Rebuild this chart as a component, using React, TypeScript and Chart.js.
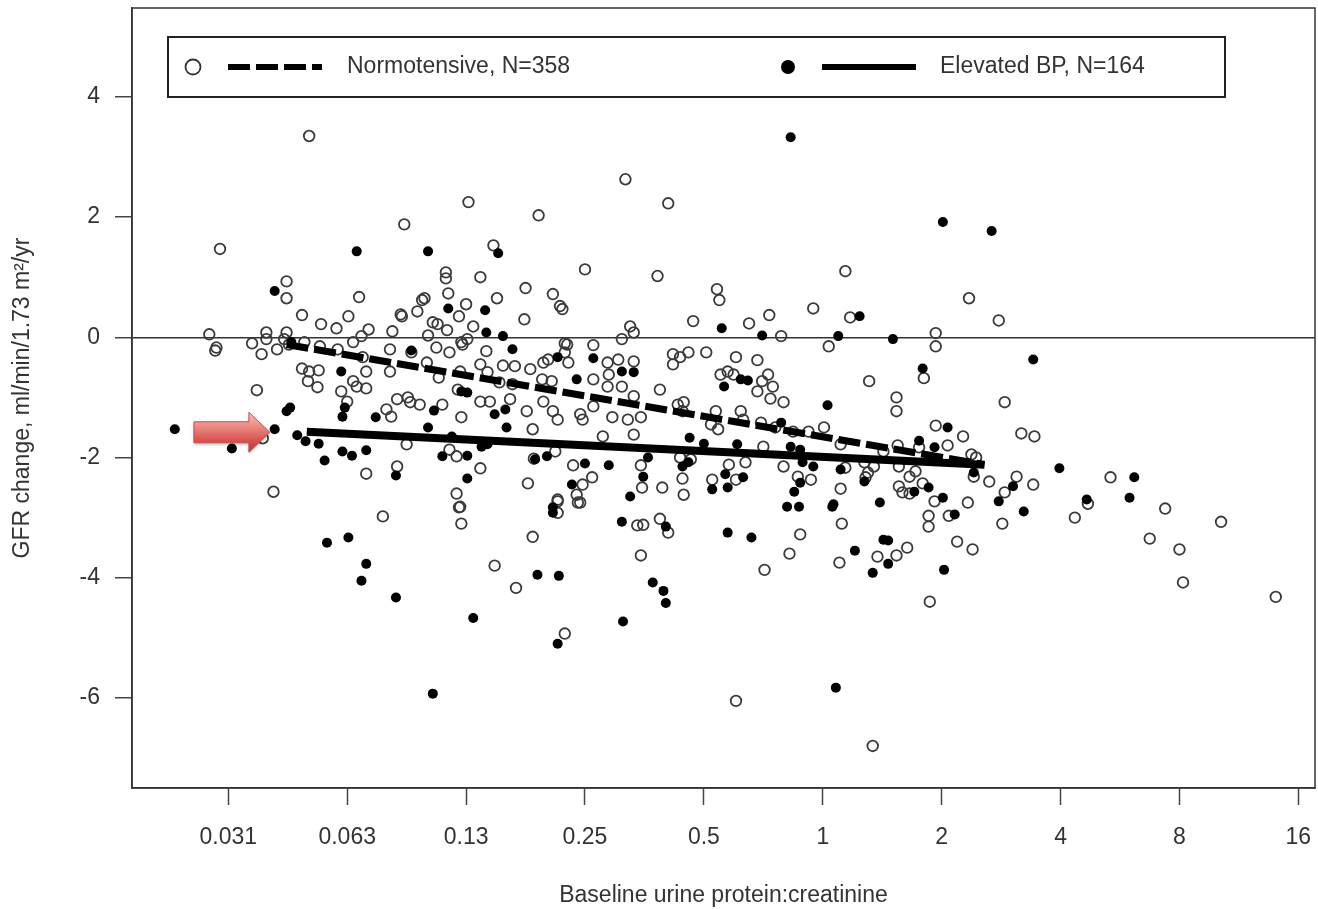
import React, { useEffect, useRef } from "react";
import { Chart, registerables } from "chart.js";

Chart.register(...registerables);

// x values are log2(baseline urine protein:creatinine); y is GFR change (ml/min/1.73 m²/yr)
const xTickValues = [-5, -4, -3, -2, -1, 0, 1, 2, 3, 4];
const xTickLabels = ["0.031", "0.063", "0.13", "0.25", "0.5", "1", "2", "4", "8", "16"];
const yTickValues = [-6, -4, -2, 0, 2, 4];

const legendLabels = ["Normotensive, N=358", "Elevated BP, N=164"];
const xTitle = "Baseline urine protein:creatinine";
const yTitle = "GFR change, ml/min/1.73 m²/yr";

// Normotensive (open circles)
const normPoints: [number, number][] = [
  [-4.32, 3.35], [-1.66, 2.63], [-2.98, 2.25], [-1.30, 2.23], [-2.39, 2.03], [-3.52, 1.88],
  [-5.07, 1.47], [-2.77, 1.53], [-2.00, 1.13], [-3.17, 1.08], [-3.17, 0.98], [-2.88, 1.00],
  [-1.39, 1.02], [0.19, 1.10], [-4.51, 0.93], [-2.50, 0.82], [-0.89, 0.80], [-0.87, 0.62],
  [-2.27, 0.72], [-3.15, 0.73], [-4.51, 0.65], [-3.90, 0.67], [-3.37, 0.62], [-3.35, 0.65],
  [-2.74, 0.65], [-3.00, 0.55], [1.23, 0.65], [-2.21, 0.52], [-2.19, 0.47], [-0.08, 0.48],
  [-3.41, 0.43], [-4.38, 0.37], [-3.55, 0.38], [-3.54, 0.35], [-3.06, 0.35], [-0.45, 0.37],
  [-3.99, 0.35], [0.23, 0.33], [-2.51, 0.30], [1.48, 0.28], [-1.09, 0.27], [-4.22, 0.22],
  [-3.28, 0.25], [-3.24, 0.22], [-0.62, 0.23], [-4.09, 0.15], [-2.94, 0.18], [-1.62, 0.18],
  [-1.59, 0.08], [-3.82, 0.13], [-3.16, 0.12], [-3.62, 0.10], [-4.68, 0.08], [-4.68, -0.03],
  [0.95, 0.07], [-5.16, 0.05], [-3.32, 0.03], [-3.88, 0.02], [-0.35, 0.02], [-4.51, 0.08],
  [-4.53, -0.03], [-4.49, -0.12], [-4.80, -0.10], [-1.69, -0.03], [-2.99, -0.03], [-3.04, -0.08],
  [-2.17, -0.10], [-1.93, -0.13], [-3.95, -0.08], [-5.10, -0.17], [0.95, -0.15], [0.05, -0.15],
  [-5.11, -0.22], [-4.72, -0.28], [-4.59, -0.20], [-3.64, -0.20], [-3.46, -0.25], [-3.25, -0.17],
  [-3.14, -0.25], [-3.03, -0.12], [-2.83, -0.23], [-2.15, -0.12], [-2.17, -0.25], [-2.35, -0.42],
  [-2.31, -0.37], [-2.14, -0.42], [-3.64, -0.57], [-3.33, -0.42], [-3.23, -0.67], [-3.05, -0.57],
  [-2.88, -0.45], [-2.82, -0.58], [-2.69, -0.47], [-2.59, -0.48], [-2.46, -0.53], [-3.07, -0.87],
  [-2.88, -1.07], [-2.80, -1.07], [-2.63, -1.03], [-2.49, -1.23], [-2.35, -1.07], [-2.27, -1.23],
  [-2.23, -1.37], [-2.04, -1.28], [-2.02, -1.37], [-1.93, -1.15], [-1.93, -0.70], [-2.36, -0.70],
  [-2.28, -0.73], [-2.61, -0.78], [-2.72, -0.75], [-3.67, -1.20], [-3.63, -1.32], [-3.58, -1.03],
  [-3.49, -1.00], [-3.47, -1.08], [-3.39, -1.12], [-3.20, -1.12], [-3.04, -1.33], [-2.44, -1.53],
  [-3.50, -1.78], [-3.14, -1.87], [-3.08, -1.98], [-2.88, -2.18], [-2.43, -2.02], [-2.25, -1.90],
  [-3.58, -2.15], [-2.48, -2.43], [-3.08, -2.60], [-3.05, -2.82], [-2.10, -2.13], [-1.94, -2.33],
  [-2.02, -2.45], [-2.23, -2.70], [-2.07, -2.62], [-2.04, -2.75],
  [-4.76, -0.88], [-4.71, -1.68], [-4.62, -2.57], [-4.00, -1.07], [-3.84, -2.27], [-4.38, -0.52],
  [-4.32, -0.57], [-4.24, -0.55], [-4.33, -0.73], [-4.25, -0.83], [-4.05, -0.90], [-3.95, -0.73],
  [-3.92, -0.82], [-3.84, -0.85], [-3.84, -0.57], [-3.87, -0.33], [-4.36, -0.08], [-4.23, -0.15],
  [-4.08, -0.20],
  [-1.26, -0.28], [-1.20, -0.33], [-1.13, -0.25], [-0.98, -0.25], [-0.73, -0.33], [-0.55, -0.38],
  [-1.26, -0.45], [-1.81, -0.42], [-1.72, -0.37], [-1.59, -0.40], [-1.80, -0.62], [-1.81, -0.82],
  [-1.69, -0.82], [-1.59, -0.98], [-1.37, -0.87], [-0.86, -0.62], [-0.80, -0.57], [-0.75, -0.62],
  [-0.51, -0.73], [-0.42, -0.82], [-0.55, -0.90], [-0.44, -1.02], [-0.33, -1.08], [-0.46, -0.62],
  [-1.22, -1.12], [-1.17, -1.08], [-1.18, -1.23], [-1.77, -1.33], [-1.64, -1.37], [-1.53, -1.33],
  [-0.90, -1.23], [-0.69, -1.23], [-0.52, -1.42], [-0.40, -1.50], [-0.25, -1.57], [-0.12, -1.57],
  [-0.94, -1.45], [-0.88, -1.53], [-0.67, -1.37], [-0.50, -1.82], [-1.59, -1.62], [-1.85, -1.65],
  [-1.53, -2.13], [-1.20, -2.00], [-1.11, -2.03], [-0.79, -2.12], [-0.65, -2.08], [-1.52, -2.50],
  [-1.35, -2.50], [-1.18, -2.35], [-1.17, -2.62], [-0.93, -2.37], [-0.73, -2.37], [-0.33, -2.15],
  [-0.21, -2.32], [-0.10, -2.37],
  [0.85, -0.68], [0.39, -0.73], [0.62, -1.00], [0.62, -1.23], [1.53, -1.08], [0.01, -1.50],
  [0.95, -1.47], [1.18, -1.65], [1.67, -1.60], [1.78, -1.65], [1.05, -1.80], [0.63, -1.80],
  [0.81, -1.83], [0.51, -1.90], [1.25, -1.95], [1.29, -2.00], [0.15, -1.78], [0.19, -2.17],
  [0.38, -2.25], [0.36, -2.33], [0.15, -2.52], [0.64, -2.48], [0.73, -2.32], [0.78, -2.23],
  [0.67, -2.58], [0.73, -2.60], [0.84, -2.43], [1.27, -2.32], [1.40, -2.40], [1.63, -2.32],
  [1.77, -2.45], [1.53, -2.58], [0.94, -2.73], [1.22, -2.75], [0.35, -2.08], [0.43, -2.15],
  [0.64, -2.15],
  [-3.70, -2.98], [-3.06, -2.83], [-3.04, -3.10], [-2.76, -3.80], [-2.58, -4.17], [-2.44, -3.32],
  [-2.23, -2.92], [-2.17, -4.93], [-2.23, -2.73], [-2.06, -2.75],
  [-1.56, -3.13], [-1.51, -3.12], [-1.37, -3.02], [-1.30, -3.25], [-1.53, -3.63], [-0.49, -3.87],
  [-0.19, -3.28], [-0.28, -3.60], [0.16, -3.10], [0.14, -3.75], [0.46, -3.65], [0.62, -3.63],
  [0.71, -3.50], [0.89, -2.97], [0.89, -3.15], [1.06, -2.97], [1.13, -3.40], [1.26, -3.53],
  [1.51, -3.10], [0.90, -4.40], [-0.73, -6.05], [0.42, -6.80],
  [2.42, -2.33], [2.23, -2.77], [2.12, -3.00], [2.88, -2.85], [2.75, -3.35], [3.00, -3.53],
  [3.03, -4.08], [3.35, -3.07], [3.81, -4.32],
];

// Elevated BP (filled circles)
const elevPoints: [number, number][] = [
  [-0.27, 3.33], [-3.92, 1.43], [-4.61, 0.77], [-3.32, 1.43], [-2.73, 1.40], [1.01, 1.92],
  [1.42, 1.77], [-3.15, 0.48], [-2.84, 0.45], [-0.85, 0.15], [-0.51, 0.03], [0.31, 0.35],
  [0.13, 0.02], [0.59, -0.03], [-2.83, 0.08], [-2.69, 0.02], [-4.47, -0.08], [-3.46, -0.22],
  [-2.61, -0.20], [1.77, -0.37], [-2.23, -0.33], [-1.93, -0.35], [-3.04, -0.90], [-2.99, -0.92],
  [-2.76, -1.28], [-2.67, -1.20], [-2.07, -0.70], [-3.27, -1.22], [-3.32, -1.50], [-3.12, -1.65],
  [-2.66, -1.50], [-3.20, -1.98], [-2.99, -1.97], [-2.87, -1.82], [-2.82, -1.78], [-2.42, -2.03],
  [-2.32, -1.98], [-3.59, -2.30], [-2.99, -2.35], [-2.00, -2.10], [-2.11, -2.45], [-2.27, -2.83],
  [-4.51, -1.23], [-4.48, -1.17], [-5.45, -1.53], [-4.61, -1.53], [-4.97, -1.85], [-4.42, -1.63],
  [-4.35, -1.73], [-4.24, -1.77], [-4.19, -2.05], [-4.04, -1.32], [-4.02, -1.17], [-4.04, -1.90],
  [-3.96, -1.97], [-3.84, -1.88], [-3.76, -1.33], [-4.05, -0.57],
  [-1.69, -0.57], [-1.59, -0.58], [-0.83, -0.82], [-0.69, -0.70], [-0.63, -0.72], [-1.12, -1.67],
  [-0.35, -1.42], [-1.00, -1.77], [-0.72, -1.78], [-0.19, -1.87], [-0.27, -1.82], [-1.47, -2.00],
  [-1.80, -2.13], [-1.51, -2.32], [-1.18, -2.15], [-1.13, -2.08], [-0.82, -2.28], [-0.67, -2.33],
  [-0.80, -2.50], [-0.93, -2.53], [-1.62, -2.65], [-0.19, -2.42], [-0.24, -2.57], [-0.08, -2.15],
  [-0.17, -2.08], [-0.30, -2.82], [-0.20, -2.82],
  [0.84, -0.52], [0.04, -1.13], [1.05, -1.50], [0.81, -1.72], [0.94, -1.83], [0.15, -2.20],
  [0.35, -2.40], [0.89, -2.50], [0.77, -2.57], [1.27, -2.25], [1.60, -2.48], [1.01, -2.67],
  [0.48, -2.75], [1.48, -2.73], [0.09, -2.78],
  [-4.17, -3.42], [-3.99, -3.33], [-3.84, -3.77], [-3.88, -4.05], [-3.59, -4.33], [-3.28, -5.93],
  [-2.94, -4.67], [-2.40, -3.95], [-2.22, -3.97], [-2.27, -2.92], [-2.23, -5.10],
  [-1.69, -3.07], [-1.32, -3.15], [-1.43, -4.08], [-1.34, -4.22], [-1.32, -4.42], [-1.68, -4.73],
  [-0.80, -3.25], [-0.60, -3.33], [0.08, -2.82], [0.27, -3.55], [0.51, -3.37], [0.55, -3.38],
  [0.55, -3.77], [0.42, -3.92], [1.11, -2.95], [1.02, -3.87], [1.69, -2.90], [0.11, -5.83],
  [1.99, -2.18], [2.62, -2.33], [2.58, -2.67], [2.22, -2.70],
];

// Fitted regression lines (endpoints)
const normFit: [number, number][] = [[-4.51, -0.12], [1.36, -2.12]];
const elevFit: [number, number][] = [[-4.34, -1.57], [1.36, -2.12]];

// Red arrow annotation tip
const arrowTip: [number, number] = [-4.65, -1.58];

const FONT_FAMILY = "'Liberation Sans', Arial, sans-serif";
const TEXT_COLOR = "#333333";
const FONT_SIZE = 23;

const toXY = (pts: [number, number][]) => pts.map(([x, y]) => ({ x, y }));

const framePlugin = {
  id: "frame",
  afterDatasetsDraw(chart: any) {
    const { ctx, chartArea } = chart;
    ctx.save();
    ctx.strokeStyle = "#333";
    ctx.lineWidth = 1.5;
    ctx.strokeRect(chartArea.left, chartArea.top, chartArea.right - chartArea.left, chartArea.bottom - chartArea.top);
    ctx.restore();
  },
};

const arrowPlugin = {
  id: "arrow",
  afterDatasetsDraw(chart: any) {
    const { ctx } = chart;
    const tx = chart.scales.x.getPixelForValue(arrowTip[0]);
    const ty = chart.scales.y.getPixelForValue(arrowTip[1]);
    const headLen = 21, headHalf = 20, shaftHalf = 10.5, totalLen = 76;
    ctx.save();
    ctx.beginPath();
    ctx.moveTo(tx, ty);
    ctx.lineTo(tx - headLen, ty - headHalf);
    ctx.lineTo(tx - headLen, ty - shaftHalf);
    ctx.lineTo(tx - totalLen, ty - shaftHalf);
    ctx.lineTo(tx - totalLen, ty + shaftHalf);
    ctx.lineTo(tx - headLen, ty + shaftHalf);
    ctx.lineTo(tx - headLen, ty + headHalf);
    ctx.closePath();
    const g = ctx.createLinearGradient(0, ty - headHalf, 0, ty + headHalf);
    g.addColorStop(0, "#f6c3bd");
    g.addColorStop(0.4, "#e8837c");
    g.addColorStop(0.7, "#d9534f");
    g.addColorStop(1, "#b53a35");
    ctx.shadowColor = "rgba(0,0,0,0.25)";
    ctx.shadowBlur = 3;
    ctx.shadowOffsetY = 2;
    ctx.fillStyle = g;
    ctx.fill();
    ctx.shadowColor = "transparent";
    ctx.strokeStyle = "#c0504d";
    ctx.lineWidth = 1;
    ctx.stroke();
    ctx.restore();
  },
};

const legendPlugin = {
  id: "customLegend",
  afterDraw(chart: any) {
    const { ctx, chartArea } = chart;
    const left = chartArea.left + 36;
    const top = chartArea.top + 29;
    const w = 1057;
    const h = 60;
    const cy = top + h / 2;
    ctx.save();
    ctx.fillStyle = "#fff";
    ctx.fillRect(left, top, w, h);
    ctx.strokeStyle = "#222";
    ctx.lineWidth = 2;
    ctx.strokeRect(left, top, w, h);

    // open circle
    ctx.beginPath();
    ctx.arc(left + 25, cy, 7.5, 0, Math.PI * 2);
    ctx.lineWidth = 1.8;
    ctx.strokeStyle = "#333";
    ctx.stroke();
    // dashed line
    ctx.beginPath();
    ctx.setLineDash([22, 6]);
    ctx.lineWidth = 6;
    ctx.strokeStyle = "#000";
    ctx.moveTo(left + 60, cy);
    ctx.lineTo(left + 154, cy);
    ctx.stroke();
    ctx.setLineDash([]);

    ctx.font = `${FONT_SIZE}px ${FONT_FAMILY}`;
    ctx.fillStyle = TEXT_COLOR;
    ctx.textBaseline = "middle";
    ctx.textAlign = "left";
    ctx.fillText(legendLabels[0], left + 179, cy);

    // filled circle
    ctx.beginPath();
    ctx.arc(left + 620, cy, 7, 0, Math.PI * 2);
    ctx.fillStyle = "#000";
    ctx.fill();
    // solid line
    ctx.beginPath();
    ctx.lineWidth = 6;
    ctx.strokeStyle = "#000";
    ctx.moveTo(left + 654, cy);
    ctx.lineTo(left + 748, cy);
    ctx.stroke();

    ctx.fillStyle = TEXT_COLOR;
    ctx.fillText(legendLabels[1], left + 772, cy);
    ctx.restore();
  },
};

export default function App() {
  const canvasRef = useRef<HTMLCanvasElement | null>(null);

  useEffect(() => {
    if (!canvasRef.current) return;
    const font = { family: FONT_FAMILY, size: FONT_SIZE };
    const chart = new Chart(canvasRef.current, {
      type: "scatter",
      data: {
        datasets: [
          {
            label: "Normotensive fit",
            data: toXY(normFit),
            showLine: true,
            borderColor: "#000",
            borderWidth: 7,
            borderDash: [22, 6],
            borderCapStyle: "butt",
            pointRadius: 0,
            order: 0,
          },
          {
            label: "Elevated BP fit",
            data: toXY(elevFit),
            showLine: true,
            borderColor: "#000",
            borderWidth: 8,
            pointRadius: 0,
            order: 0,
          },
          {
            label: legendLabels[0],
            data: toXY(normPoints),
            pointStyle: "circle",
            pointRadius: 5.3,
            pointBorderWidth: 1.8,
            pointBorderColor: "#3a3a3a",
            pointBackgroundColor: "rgba(0,0,0,0)",
            order: 2,
          },
          {
            label: legendLabels[1],
            data: toXY(elevPoints),
            pointStyle: "circle",
            pointRadius: 5,
            pointBorderWidth: 0,
            pointBorderColor: "#000",
            pointBackgroundColor: "#000",
            order: 1,
          },
        ],
      },
      options: {
        responsive: false,
        animation: false,
        layout: { autoPadding: false, padding: { left: 0, right: 3, top: 8, bottom: 0 } },
        plugins: {
          legend: { display: false },
          tooltip: { enabled: false },
        },
        scales: {
          x: {
            type: "linear",
            min: -5.81,
            max: 4.14,
            afterBuildTicks: (s: any) => {
              s.ticks = xTickValues.map((v) => ({ value: v }));
            },
            afterFit: (s: any) => {
              s.height = 121;
              s.paddingLeft = 0;
              s.paddingRight = 0;
            },
            ticks: {
              autoSkip: false,
              maxRotation: 0,
              color: TEXT_COLOR,
              font,
              padding: 19,
              callback: (v: any) => {
                const i = xTickValues.indexOf(Number(v));
                return i >= 0 ? xTickLabels[i] : "";
              },
            },
            grid: {
              drawOnChartArea: false,
              tickLength: 17,
              tickColor: "#444",
              tickWidth: 1.5,
            },
            border: { display: true, color: "#333", width: 1.5 },
            title: {
              display: true,
              text: xTitle,
              color: TEXT_COLOR,
              font,
              padding: { top: 0, bottom: 0 },
            },
          },
          y: {
            type: "linear",
            min: -7.5,
            max: 5.48,
            afterBuildTicks: (s: any) => {
              s.ticks = yTickValues.map((v) => ({ value: v }));
            },
            afterFit: (s: any) => {
              s.width = 132;
              s.paddingTop = 0;
              s.paddingBottom = 0;
            },
            ticks: {
              color: TEXT_COLOR,
              font,
              padding: 15,
              callback: (v: any) => String(v),
            },
            grid: {
              color: (c: any) => (c.tick && c.tick.value === 0 ? "#333" : "rgba(0,0,0,0)"),
              lineWidth: 1.5,
              tickLength: 17,
              tickColor: "#444",
              tickWidth: 1.5,
            },
            border: { display: true, color: "#333", width: 1.5 },
            title: {
              display: true,
              text: yTitle,
              color: TEXT_COLOR,
              font,
              padding: { top: 9, bottom: 0 },
            },
          },
        },
      },
      plugins: [framePlugin, arrowPlugin, legendPlugin],
    } as any);
    return () => chart.destroy();
  }, []);

  return (
    <div style={{ position: "absolute", left: 0, top: 0, width: 1318, height: 909, background: "#fff" }}>
      <canvas ref={canvasRef} width={1318} height={909} style={{ display: "block" }} />
    </div>
  );
}
